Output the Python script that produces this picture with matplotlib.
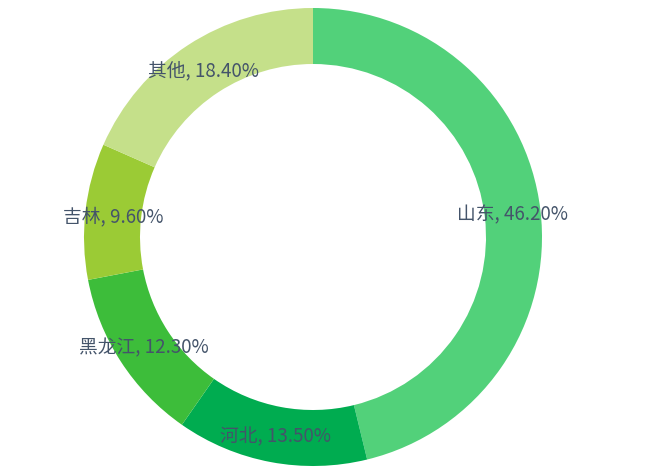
import numpy as np
import matplotlib
matplotlib.use("Agg")
import matplotlib.pyplot as plt

plt.rcParams['font.family'] = ['Noto Sans CJK SC', 'DejaVu Sans']

regions = ["山东", "河北", "黑龙江", "吉林", "其他"]
shares = [46.2, 13.5, 12.3, 9.6, 18.4]
colors = ["#52d17a", "#00ac50", "#3dbd3a", "#9bcb35", "#c5e08a"]

W, H = 648, 473
fig = plt.figure(figsize=(W / 100, H / 100), dpi=100)
ax = fig.add_axes([0, 0, 1, 1])

cx, cy = 313, H - 237
r_out, r_in = 229, 173

wedges, _ = ax.pie(shares, colors=colors, startangle=90, counterclock=False,
                   center=(cx, cy), radius=r_out, frame=True,
                   wedgeprops=dict(width=r_out - r_in, linewidth=0))
ax.set_xlim(0, W)
ax.set_ylim(0, H)
ax.axis("off")

r_mid = (r_out + r_in) / 2
for w, name, v in zip(wedges, regions, shares):
  ang = np.deg2rad((w.theta1 + w.theta2) / 2)
  x = cx + r_mid * np.cos(ang)
  y = cy + r_mid * np.sin(ang) - 2
  ax.text(x, y, f"{name}, {v:.2f}%", ha="center", va="center",
          fontsize=13.5, color="#44546a")

fig.savefig("out.png", dpi=100)
